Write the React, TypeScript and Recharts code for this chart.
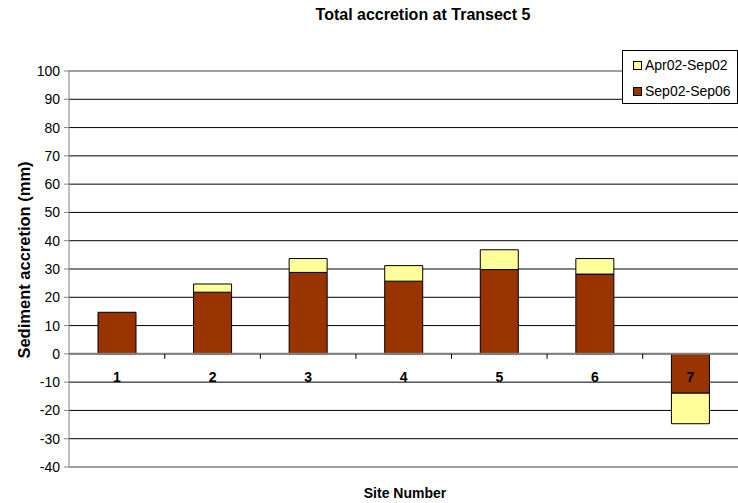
import React from 'react';
import { BarChart, Bar, XAxis, YAxis, CartesianGrid, ReferenceLine, LabelList } from 'recharts';

const sites = ['1', '2', '3', '4', '5', '6', '7'];
const sep02Sep06 = [14.7, 21.8, 28.8, 25.7, 29.8, 28.2, -13.9];
const apr02Sep02 = [0, 2.9, 4.9, 5.5, 7.0, 5.5, -10.8];
const yTicks = [-40, -30, -20, -10, 0, 10, 20, 30, 40, 50, 60, 70, 80, 90, 100];

const data = sites.map((s, i) => ({ site: s, sep: sep02Sep06[i], apr: apr02Sep02[i] }));

const FONT = 'Arial, "Liberation Sans", Helvetica, sans-serif';
const BROWN = '#993300';
const YELLOW = '#FFFF99';
const CHART_W = 738;
const AXIS_W = 69;
const HALF_BAND = (CHART_W - AXIS_W) / sites.length / 2;

const SiteLabel = (props: any) => {
  const { x, y, width, height, value, index } = props;
  const zeroY = Number(y) + Number(height);
  const cx = Number(x) + Number(width) / 2;
  return (
    <g>
      {index < sites.length - 1 && (
        <line x1={cx + HALF_BAND} x2={cx + HALF_BAND} y1={zeroY} y2={zeroY + 5} stroke="#000" strokeWidth={1} />
      )}
      <text x={cx} y={zeroY + 28} textAnchor="middle" fontFamily={FONT} fontSize={14} fontWeight="bold" fill="#000">
        {value}
      </text>
    </g>
  );
};

export default function App() {
  return (
    <div style={{ position: 'absolute', left: 0, top: 0, width: 738, height: 503, background: '#fff', fontFamily: FONT }}>
      <div style={{ position: 'absolute', left: 0, width: 846, top: 6, textAlign: 'center', fontSize: 16, lineHeight: '18px', fontWeight: 'bold' }}>
        Total accretion at Transect 5
      </div>
      <BarChart width={CHART_W} height={503} data={data} margin={{ top: 71, right: 0, bottom: 0, left: 0 }} barSize={38}>
        <CartesianGrid vertical={false} stroke="#000" strokeWidth={1} />
        <XAxis dataKey="site" tick={false} tickLine={false} axisLine={false} height={36}
          label={(p: any) => (
            <text x={405} y={498} textAnchor="middle" fontFamily={FONT} fontSize={14} fontWeight="bold" fill="#000">Site Number</text>
          )} />
        <YAxis domain={[-40, 100]} ticks={yTicks} interval={0} width={AXIS_W} tickSize={5} tickMargin={4}
          stroke="#808080" tick={{ fill: '#000', fontSize: 14, fontFamily: FONT }}
          label={(p: any) => (
            <text x={0} y={0} transform="translate(30,260) rotate(-90)" textAnchor="middle" fontFamily={FONT} fontSize={16.5} fontWeight="bold" fill="#000">Sediment accretion (mm)</text>
          )} />
        <ReferenceLine y={100} stroke="#c0c0c0" />
        <ReferenceLine y={-40} stroke="#c0c0c0" />
        <ReferenceLine y={0} stroke="#808080" strokeWidth={2} />
        <Bar dataKey="sep" name="Sep02-Sep06" stackId="a" fill={BROWN} stroke="#000" strokeWidth={1} isAnimationActive={false}>
          <LabelList dataKey="site" content={SiteLabel} />
        </Bar>
        <Bar dataKey="apr" name="Apr02-Sep02" stackId="a" fill={YELLOW} stroke="#000" strokeWidth={1} isAnimationActive={false} />
      </BarChart>
      <div style={{ position: 'absolute', left: 622, top: 50, width: 116, height: 54, boxSizing: 'border-box', border: '1px solid #000', background: '#fff', fontSize: 14 }}>
        {[['Apr02-Sep02', YELLOW], ['Sep02-Sep06', BROWN]].map(([name, color], i) => (
          <div key={name} style={{ position: 'absolute', left: 10, top: 5 + i * 26, display: 'flex', alignItems: 'center', whiteSpace: 'nowrap', lineHeight: '18px' }}>
            <span style={{ display: 'inline-block', width: 7, height: 7, border: '1px solid #000', background: color, marginRight: 3 }} />
            <span>{name}</span>
          </div>
        ))}
      </div>
    </div>
  );
}
